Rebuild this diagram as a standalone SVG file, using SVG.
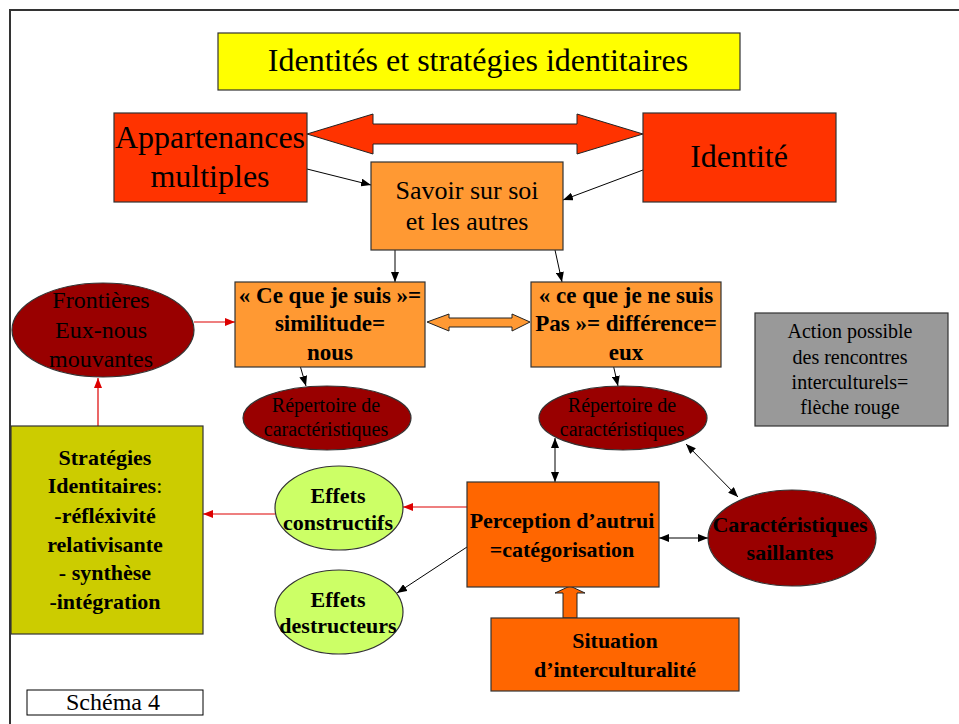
<svg xmlns="http://www.w3.org/2000/svg" width="959" height="724" viewBox="0 0 959 724">
  <defs>
    <marker id="ab" viewBox="0 0 10 8" refX="10" refY="4" markerWidth="10" markerHeight="8" markerUnits="userSpaceOnUse" orient="auto-start-reverse">
      <path d="M0,0 L10,4 L0,8 z" fill="#000"/>
    </marker>
    <marker id="ar" viewBox="0 0 10 8" refX="10" refY="4" markerWidth="10" markerHeight="8" markerUnits="userSpaceOnUse" orient="auto-start-reverse">
      <path d="M0,0 L10,4 L0,8 z" fill="#DD0000"/>
    </marker>
    <style>
      text { font-family: "Liberation Serif", "Times New Roman", serif; fill: #000; text-anchor: middle; }
      .box { stroke: #333; stroke-width: 1.2; }
      .b { font-weight: bold; }
      .blk { stroke: #000; stroke-width: 1; fill: none; }
      .red { stroke: #DD0000; stroke-width: 1.2; fill: none; }
      .blockarrow { stroke: #222; stroke-width: 1; }
    </style>
  </defs>
  <rect width="959" height="724" fill="#fff"/>
  <path d="M10,724 V10 H959" fill="none" stroke="#333" stroke-width="2"/>

  <g id="connectors">
    <polygon class="blockarrow" fill="#FF3300" points="307,134 373,114 373,124 577,124 577,114 643,134 577,154 577,144 373,144 373,154"/>
    <polygon class="blockarrow" fill="#FF9933" points="427,322 449,314 449,318 512,318 512,314 530,322 512,331 512,327 449,327 449,331"/>
    <polygon class="blockarrow" fill="#FF6600" points="570,586 585,593 577,593 577,618 563,618 563,593 555,593"/>
    <line class="blk" x1="307" y1="169" x2="371" y2="185" marker-end="url(#ab)"/>
    <line class="blk" x1="643" y1="170" x2="563" y2="200" marker-end="url(#ab)"/>
    <line class="blk" x1="395" y1="250" x2="395" y2="282" marker-end="url(#ab)"/>
    <line class="blk" x1="555" y1="250" x2="562" y2="282" marker-end="url(#ab)"/>
    <line class="blk" x1="299" y1="362" x2="306" y2="386" marker-end="url(#ab)"/>
    <line class="blk" x1="613" y1="364" x2="618" y2="386" marker-end="url(#ab)"/>
    <line class="red" x1="194" y1="322" x2="235" y2="322" marker-end="url(#ar)"/>
    <line class="red" x1="98" y1="426" x2="98" y2="378" marker-end="url(#ar)"/>
    <line class="red" x1="467" y1="507" x2="403" y2="507" marker-end="url(#ar)"/>
    <line class="red" x1="275" y1="514" x2="203" y2="514" marker-end="url(#ar)"/>
    <line class="blk" x1="467" y1="547" x2="397" y2="593" marker-end="url(#ab)"/>
    <line class="blk" x1="659" y1="538" x2="708" y2="538" marker-start="url(#ab)" marker-end="url(#ab)"/>
    <line class="blk" x1="555" y1="438" x2="555" y2="482" marker-start="url(#ab)" marker-end="url(#ab)"/>
    <line class="blk" x1="686" y1="444" x2="738" y2="497" marker-start="url(#ab)" marker-end="url(#ab)"/>
  </g>

  <g id="title">
    <rect class="box" x="218" y="33" width="522" height="57" fill="#FFFF00"/>
    <text x="478" y="71" font-size="32">Identités et stratégies identitaires</text>
  </g>

  <g id="appartenances">
    <rect class="box" x="114" y="113" width="193" height="89" fill="#FF3300"/>
    <text x="210" y="148" font-size="32">Appartenances</text>
    <text x="210" y="187" font-size="32">multiples</text>
  </g>

  <g id="identite">
    <rect class="box" x="643" y="113" width="193" height="89" fill="#FF3300"/>
    <text x="739" y="167" font-size="32">Identité</text>
  </g>

  <g id="savoir">
    <rect class="box" x="371" y="162" width="192" height="88" fill="#FF9933"/>
    <text x="467" y="199" font-size="26">Savoir sur soi</text>
    <text x="467" y="230" font-size="26">et les autres</text>
  </g>

  <g id="similitude">
    <rect class="box" x="235" y="282" width="190" height="85" fill="#FF9933"/>
    <text class="b" x="330" y="303" font-size="23">« Ce que je suis »=</text>
    <text class="b" x="330" y="331" font-size="23">similitude=</text>
    <text class="b" x="330" y="360" font-size="23">nous</text>
  </g>

  <g id="difference">
    <rect class="box" x="531" y="282" width="190" height="85" fill="#FF9933"/>
    <text class="b" x="626" y="303" font-size="23">« ce que je ne suis</text>
    <text class="b" x="626" y="331" font-size="23">Pas »= différence=</text>
    <text class="b" x="626" y="360" font-size="23">eux</text>
  </g>

  <g id="frontieres">
    <ellipse class="box" cx="103" cy="330" rx="91" ry="47" fill="#990000"/>
    <text x="101" y="308" font-size="24">Frontières</text>
    <text x="101" y="338" font-size="24">Eux-nous</text>
    <text x="101" y="367" font-size="24">mouvantes</text>
  </g>

  <g id="repertoire-gauche">
    <ellipse class="box" cx="327" cy="418" rx="84" ry="32" fill="#990000"/>
    <text x="326" y="412" font-size="20">Répertoire de</text>
    <text x="326" y="436" font-size="20">caractéristiques</text>
  </g>

  <g id="repertoire-droite">
    <ellipse class="box" cx="623" cy="418" rx="84" ry="32" fill="#990000"/>
    <text x="622" y="412" font-size="20">Répertoire de</text>
    <text x="622" y="436" font-size="20">caractéristiques</text>
  </g>

  <g id="legende">
    <rect class="box" x="755" y="313" width="193" height="113" fill="#999999"/>
    <text x="850" y="338" font-size="20">Action possible</text>
    <text x="850" y="364" font-size="20">des rencontres</text>
    <text x="850" y="389" font-size="20">interculturels=</text>
    <text x="850" y="414" font-size="20">flèche rouge</text>
  </g>

  <g id="strategies">
    <rect class="box" x="11" y="426" width="192" height="208" fill="#CCCC00"/>
    <text class="b" x="105" y="465" font-size="22">Stratégies</text>
    <text x="105" y="493" font-size="22"><tspan class="b">Identitaires</tspan>:</text>
    <text class="b" x="105" y="523" font-size="22">-réfléxivité</text>
    <text class="b" x="105" y="552" font-size="22">relativisante</text>
    <text class="b" x="105" y="580" font-size="22">- synthèse</text>
    <text class="b" x="105" y="609" font-size="22">-intégration</text>
  </g>

  <g id="effets-constructifs">
    <ellipse class="box" cx="339" cy="508" rx="64" ry="42" fill="#CCFF66"/>
    <text class="b" x="338" y="503" font-size="22">Effets</text>
    <text class="b" x="338" y="530" font-size="22">constructifs</text>
  </g>

  <g id="effets-destructeurs">
    <ellipse class="box" cx="339" cy="612" rx="64" ry="42" fill="#CCFF66"/>
    <text class="b" x="338" y="607" font-size="22">Effets</text>
    <text class="b" x="338" y="633" font-size="22">destructeurs</text>
  </g>

  <g id="perception">
    <rect class="box" x="467" y="482" width="192" height="105" fill="#FF6600"/>
    <text class="b" x="562" y="528" font-size="22">Perception d’autrui</text>
    <text class="b" x="562" y="557" font-size="22">=catégorisation</text>
  </g>

  <g id="caracteristiques-saillantes">
    <ellipse class="box" cx="792" cy="538" rx="84" ry="48" fill="#990000"/>
    <text class="b" x="790" y="532" font-size="22">Caractéristiques</text>
    <text class="b" x="790" y="560" font-size="22">saillantes</text>
  </g>

  <g id="situation">
    <rect class="box" x="491" y="618" width="248" height="73" fill="#FF6600"/>
    <text class="b" x="615" y="648" font-size="22">Situation</text>
    <text class="b" x="615" y="677" font-size="22">d’interculturalité</text>
  </g>

  <g id="schema">
    <rect x="27" y="690" width="176" height="25" fill="#fff" stroke="#000" stroke-width="1"/>
    <text x="113" y="710" font-size="24">Schéma 4</text>
  </g>
</svg>
